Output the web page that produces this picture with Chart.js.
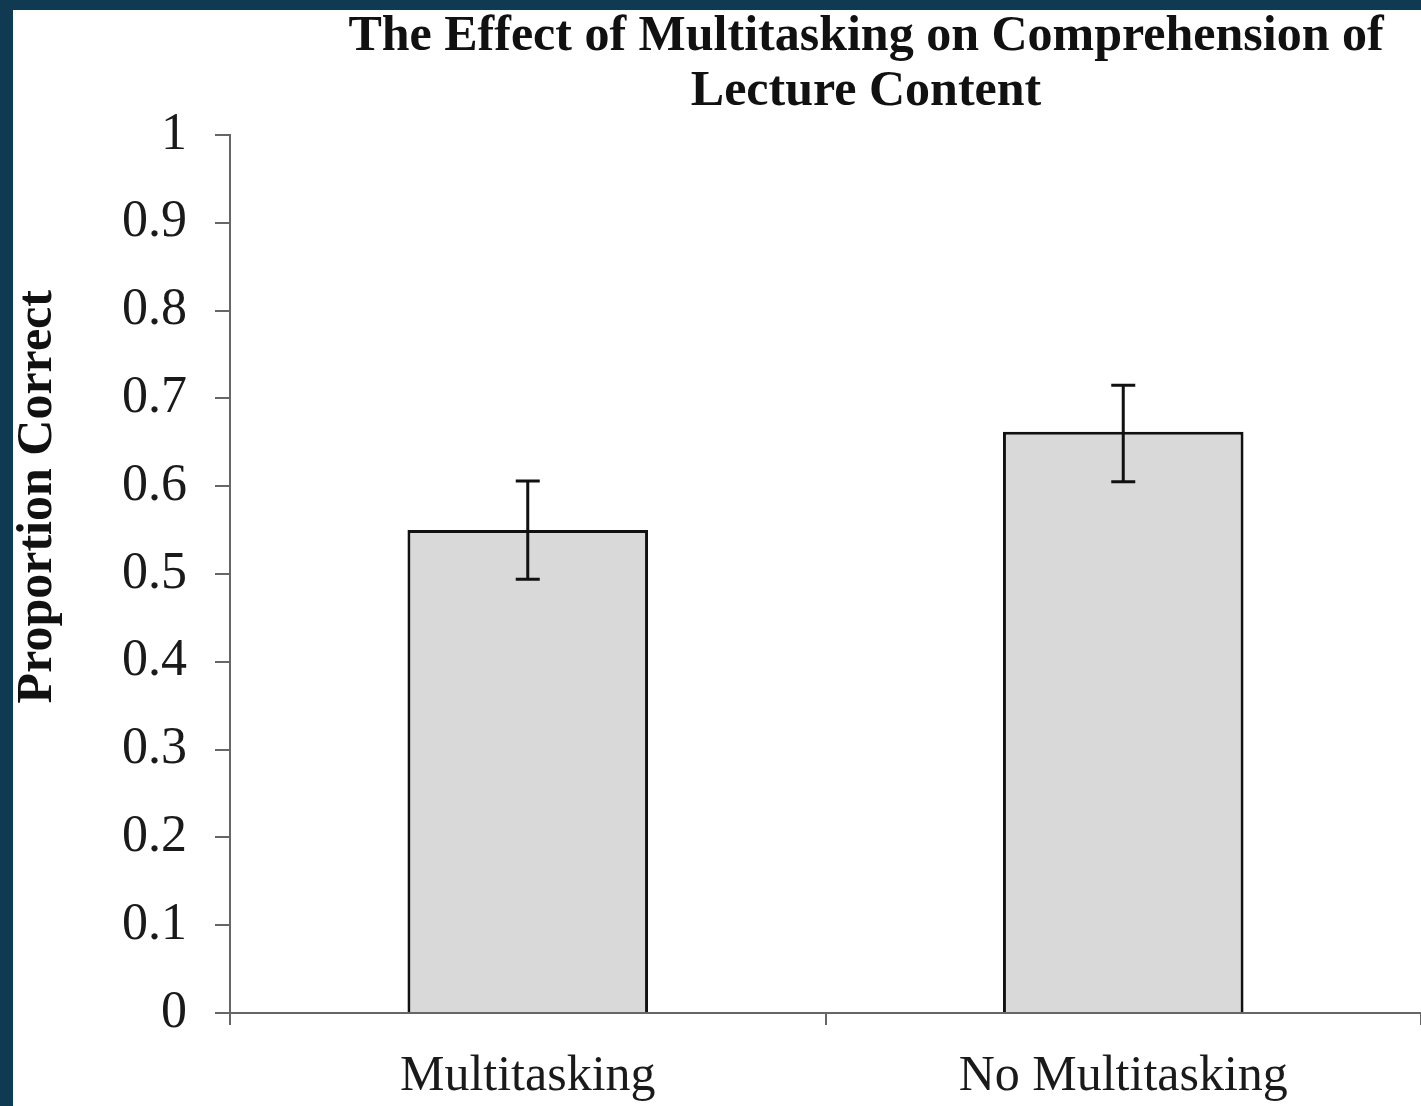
<!DOCTYPE html>
<html>
<head>
<meta charset="utf-8">
<script src="https://cdn.jsdelivr.net/npm/chart.js@4"></script>
<style>
  html, body { margin: 0; padding: 0; width: 1421px; height: 1106px; overflow: hidden; background: #0f3a52; }
  #wrap { position: absolute; left: 13px; top: 10px; width: 1408px; height: 1096px; background: #ffffff; overflow: hidden; }
  canvas { display: block; background: #ffffff; }
</style>
</head>
<body>
<div id="wrap"><canvas id="c" width="1706" height="1096"></canvas></div>
<script>
const categories = ['Multitasking', 'No Multitasking'];
const proportionCorrect = [0.55, 0.662];
const errorLow = [0.494, 0.605];
const errorHigh = [0.606, 0.715];
const yTickLabels = ['0', '0.1', '0.2', '0.3', '0.4', '0.5', '0.6', '0.7', '0.8', '0.9', '1'];
const titleLines = ['The Effect of Multitasking on Comprehension of', 'Lecture Content'];
const yAxisTitle = 'Proportion Correct';

const serif = '"Liberation Serif", "DejaVu Serif", serif';

const errorBars = {
  id: 'errorBars',
  afterDatasetsDraw(chart) {
    const meta = chart.getDatasetMeta(0);
    const y = chart.scales.y;
    const ctx = chart.ctx;
    ctx.save();
    ctx.strokeStyle = '#111';
    ctx.lineWidth = 3;
    meta.data.forEach((bar, i) => {
      const x = bar.x;
      const yl = y.getPixelForValue(errorLow[i]);
      const yh = y.getPixelForValue(errorHigh[i]);
      const cap = 12;
      ctx.beginPath();
      ctx.moveTo(x, yl); ctx.lineTo(x, yh);
      ctx.moveTo(x - cap, yl); ctx.lineTo(x + cap, yl);
      ctx.moveTo(x - cap, yh); ctx.lineTo(x + cap, yh);
      ctx.stroke();
    });
    ctx.restore();
  }
};

const textPlugin = {
  id: 'textPlugin',
  afterDraw(chart) {
    const ctx = chart.ctx;
    const a = chart.chartArea;
    ctx.save();
    ctx.font = 'bold 50px ' + serif;
    ctx.fillStyle = '#111';
    ctx.textAlign = 'center';
    ctx.textBaseline = 'alphabetic';
    titleLines.forEach((line, i) => {
      ctx.fillText(line, chart.width / 2, 40 + i * 55);
    });
    ctx.translate(a.left - 192, a.top + a.height * 0.412);
    ctx.rotate(-Math.PI / 2);
    ctx.font = 'bold 50px ' + serif;
    ctx.textBaseline = 'middle';
    ctx.fillText(yAxisTitle, 0, 0);
    ctx.restore();
  }
};

new Chart(document.getElementById('c'), {
  type: 'bar',
  data: {
    labels: categories,
    datasets: [{
      data: proportionCorrect,
      backgroundColor: '#d9d9d9',
      borderColor: '#111',
      borderWidth: 3,
      borderSkipped: 'bottom',
      barPercentage: 0.404,
      categoryPercentage: 1.0
    }]
  },
  options: {
    responsive: false,
    animation: false,
    layout: { padding: { left: 0, right: 298, top: 0, bottom: 0 } },
    plugins: {
      legend: { display: false },
      tooltip: { enabled: false },
      title: {
        display: true,
        text: titleLines,
        color: 'rgba(0,0,0,0)',
        font: { family: serif, size: 50, weight: 'bold', lineHeight: 1.1 },
        padding: { top: 0, bottom: 15 }
      }
    },
    scales: {
      x: {
        offset: true,
        grid: { offset: true, drawOnChartArea: false, drawTicks: true, tickLength: 12, color: '#666', lineWidth: 2 },
        border: { display: true, color: '#666', width: 2 },
        ticks: { color: '#1a1a1a', font: { family: serif, size: 50 }, padding: 22, maxRotation: 0 },
        afterFit(scale) { scale.height = 93; }
      },
      y: {
        min: 0, max: 1,
        grid: { drawOnChartArea: false, drawTicks: true, tickLength: 15, color: '#666', lineWidth: 2 },
        border: { display: true, color: '#666', width: 2 },
        ticks: {
          stepSize: 0.1,
          color: '#1a1a1a',
          font: { family: serif, size: 52 },
          padding: 28,
          callback: (v, i) => yTickLabels[i]
        },
        afterFit(scale) { scale.width = 217; }
      }
    }
  },
  plugins: [errorBars, textPlugin]
});
</script>
</body>
</html>
